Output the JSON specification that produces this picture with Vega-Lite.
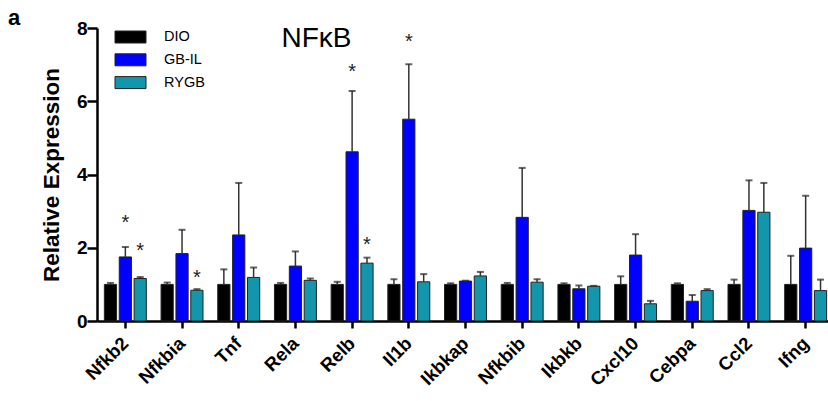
{
  "$schema": "https://vega.github.io/schema/vega-lite/v6.json",
  "width": 731,
  "height": 293,
  "autosize": {"type": "none"},
  "padding": {"left": 97, "top": 28, "right": 0, "bottom": 80},
  "background": "white",
  "title": {"text": "a", "anchor": "start", "frame": "group", "dx": -89, "dy": 32, "offset": 4, "fontSize": 22, "fontWeight": "bold", "font": "Liberation Sans", "baseline": "alphabetic", "color": "black"},
  "config": {
    "view": {"stroke": null},
    "font": "Liberation Sans",
    "axis": {"grid": false, "domainColor": "black", "tickColor": "black", "labelColor": "black", "titleColor": "black", "labelFont": "Liberation Sans", "titleFont": "Liberation Sans"},
    "axisX": {"labelFontSize": 18.5, "labelFontWeight": "bold", "labelPadding": 12, "domainWidth": 2.5, "tickWidth": 2.5, "tickSize": 7, "labelOverlap": false},
    "axisY": {"labelFontSize": 19, "labelFontWeight": "bold", "titleFontSize": 22.5, "titleFontWeight": "bold", "titlePadding": 13, "domainWidth": 2.5, "tickWidth": 2.5, "tickSize": 10, "labelPadding": 0},
    "legend": {
      "orient": "none", "legendX": 23, "legendY": -1.5, "padding": 0,
      "symbolType": "M-1.55,-0.6H1.55V0.6H-1.55Z", "symbolSize": 400,
      "symbolStrokeColor": "#222222", "symbolStrokeWidth": 1, "symbolOpacity": 1,
      "labelFontSize": 14.5, "labelFont": "Liberation Sans", "labelColor": "black", "labelOffset": 23,
      "rowPadding": 3.8
    }
  },
  "datasets": {
    "bars": [
      {"gene": "Nfkb2", "group": "DIO", "mean": 1.0, "top": 1.04},
      {"gene": "Nfkb2", "group": "GB-IL", "mean": 1.75, "top": 2.02},
      {"gene": "Nfkb2", "group": "RYGB", "mean": 1.16, "top": 1.2},
      {"gene": "Nfkbia", "group": "DIO", "mean": 1.0, "top": 1.05},
      {"gene": "Nfkbia", "group": "GB-IL", "mean": 1.84, "top": 2.49},
      {"gene": "Nfkbia", "group": "RYGB", "mean": 0.84, "top": 0.87},
      {"gene": "Tnf", "group": "DIO", "mean": 1.0, "top": 1.41},
      {"gene": "Tnf", "group": "GB-IL", "mean": 2.35, "top": 3.77},
      {"gene": "Tnf", "group": "RYGB", "mean": 1.19, "top": 1.46},
      {"gene": "Rela", "group": "DIO", "mean": 1.0, "top": 1.04},
      {"gene": "Rela", "group": "GB-IL", "mean": 1.5, "top": 1.9},
      {"gene": "Rela", "group": "RYGB", "mean": 1.11, "top": 1.16},
      {"gene": "Relb", "group": "DIO", "mean": 1.0, "top": 1.07},
      {"gene": "Relb", "group": "GB-IL", "mean": 4.62, "top": 6.28},
      {"gene": "Relb", "group": "RYGB", "mean": 1.58, "top": 1.73},
      {"gene": "Il1b", "group": "DIO", "mean": 1.0, "top": 1.14},
      {"gene": "Il1b", "group": "GB-IL", "mean": 5.51, "top": 7.01},
      {"gene": "Il1b", "group": "RYGB", "mean": 1.07, "top": 1.28},
      {"gene": "Ikbkap", "group": "DIO", "mean": 1.0, "top": 1.03},
      {"gene": "Ikbkap", "group": "GB-IL", "mean": 1.09, "top": 1.1},
      {"gene": "Ikbkap", "group": "RYGB", "mean": 1.23, "top": 1.34},
      {"gene": "Nfkbib", "group": "DIO", "mean": 1.0, "top": 1.04},
      {"gene": "Nfkbib", "group": "GB-IL", "mean": 2.83, "top": 4.18},
      {"gene": "Nfkbib", "group": "RYGB", "mean": 1.06, "top": 1.14},
      {"gene": "Ikbkb", "group": "DIO", "mean": 1.0, "top": 1.03},
      {"gene": "Ikbkb", "group": "GB-IL", "mean": 0.88, "top": 0.97},
      {"gene": "Ikbkb", "group": "RYGB", "mean": 0.95, "top": 0.96},
      {"gene": "Cxcl10", "group": "DIO", "mean": 1.0, "top": 1.22},
      {"gene": "Cxcl10", "group": "GB-IL", "mean": 1.8, "top": 2.37},
      {"gene": "Cxcl10", "group": "RYGB", "mean": 0.47, "top": 0.55},
      {"gene": "Cebpa", "group": "DIO", "mean": 1.0, "top": 1.03},
      {"gene": "Cebpa", "group": "GB-IL", "mean": 0.54, "top": 0.71},
      {"gene": "Cebpa", "group": "RYGB", "mean": 0.83, "top": 0.87},
      {"gene": "Ccl2", "group": "DIO", "mean": 1.0, "top": 1.13},
      {"gene": "Ccl2", "group": "GB-IL", "mean": 3.02, "top": 3.84},
      {"gene": "Ccl2", "group": "RYGB", "mean": 2.97, "top": 3.77},
      {"gene": "Ifng", "group": "DIO", "mean": 1.0, "top": 1.78},
      {"gene": "Ifng", "group": "GB-IL", "mean": 1.99, "top": 3.42},
      {"gene": "Ifng", "group": "RYGB", "mean": 0.83, "top": 1.13}
    ],
    "stars": [
      {"gene": "Nfkb2", "group": "GB-IL", "y": 2.8, "mark": "*"},
      {"gene": "Nfkb2", "group": "RYGB", "y": 2.05, "mark": "*"},
      {"gene": "Nfkbia", "group": "RYGB", "y": 1.3, "mark": "*"},
      {"gene": "Relb", "group": "GB-IL", "y": 6.94, "mark": "*"},
      {"gene": "Relb", "group": "RYGB", "y": 2.2, "mark": "*"},
      {"gene": "Il1b", "group": "GB-IL", "y": 7.76, "mark": "*"}
    ]
  },
  "encoding": {
    "x": {
      "field": "gene", "type": "nominal", "sort": null,
      "scale": {"domain": ["Nfkb2", "Nfkbia", "Tnf", "Rela", "Relb", "Il1b", "Ikbkap", "Nfkbib", "Ikbkb", "Cxcl10", "Cebpa", "Ccl2", "Ifng"], "range": [0, 737], "paddingInner": 0.26, "paddingOuter": 0.13},
      "axis": {"title": null, "labelAngle": 315, "labelAlign": "right", "labelBaseline": "middle"}
    },
    "xOffset": {"field": "group", "type": "nominal", "sort": null, "scale": {"domain": ["DIO", "GB-IL", "RYGB"], "paddingInner": 0.18, "paddingOuter": 0}}
  },
  "layer": [
    {
      "data": {"name": "bars"},
      "mark": {"type": "bar", "stroke": "#222222", "strokeWidth": 1},
      "encoding": {
        "y": {"field": "mean", "type": "quantitative", "scale": {"domain": [0, 8], "nice": false}, "axis": {"title": "Relative Expression", "values": [0, 2, 4, 6, 8]}},
        "color": {"field": "group", "type": "nominal", "scale": {"domain": ["DIO", "GB-IL", "RYGB"], "range": ["#000000", "#0000ff", "#1396ab"]}, "legend": {"title": null}}
      }
    },
    {
      "data": {"name": "bars"},
      "mark": {"type": "rule", "color": "#333333", "strokeWidth": 1.5},
      "encoding": {
        "y": {"field": "mean", "type": "quantitative"},
        "y2": {"field": "top"}
      }
    },
    {
      "data": {"name": "bars"},
      "mark": {"type": "tick", "color": "#222222", "thickness": 2, "size": 7, "orient": "horizontal"},
      "encoding": {
        "y": {"field": "top", "type": "quantitative"}
      }
    },
    {
      "data": {"name": "stars"},
      "mark": {"type": "text", "fontSize": 20, "font": "Liberation Sans", "color": "#222222", "baseline": "middle", "dy": 5},
      "encoding": {
        "y": {"field": "y", "type": "quantitative"},
        "text": {"field": "mark"}
      }
    },
    {
      "data": {"values": [{"label": "NFκB"}]},
      "mark": {"type": "text", "fontSize": 28, "font": "Liberation Sans", "color": "black", "baseline": "alphabetic", "align": "center", "dx": 21},
      "encoding": {
        "x": {"datum": "Rela"},
        "xOffset": null,
        "y": {"datum": 7.48},
        "text": {"field": "label"}
      }
    }
  ]
}
